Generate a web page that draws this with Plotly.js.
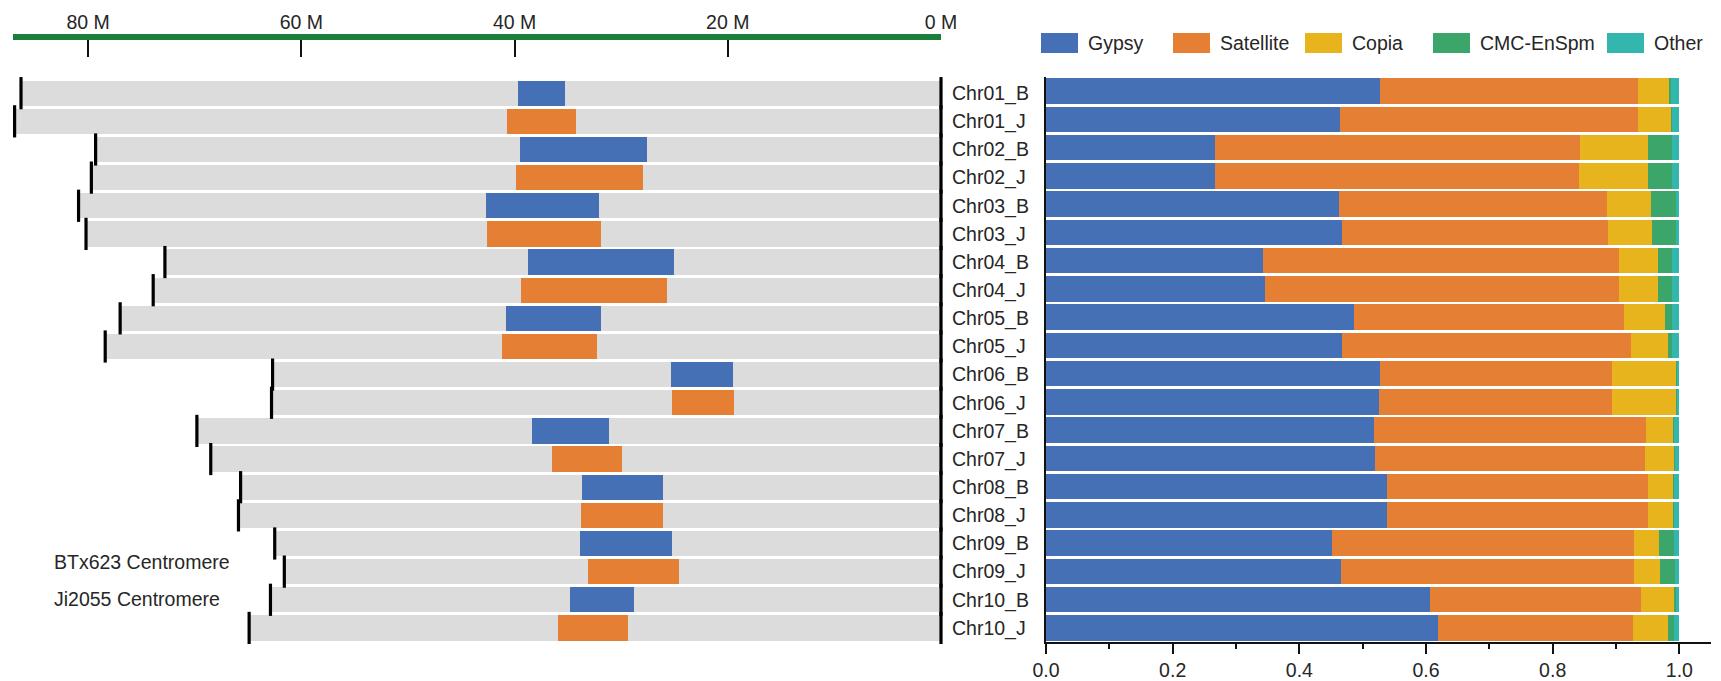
<!DOCTYPE html>
<html>
<head>
<meta charset="utf-8">
<script src="https://cdn.plot.ly/plotly-3.0.1.min.js"></script>
<style>html,body{margin:0;padding:0;background:#fff;}#chart{width:1721px;height:681px;}</style>
</head>
<body>
<div id="chart"></div>
<script>
// ---------- data ----------
const chromosomes = ['Chr01_B','Chr01_J','Chr02_B','Chr02_J','Chr03_B','Chr03_J','Chr04_B','Chr04_J','Chr05_B','Chr05_J',
                     'Chr06_B','Chr06_J','Chr07_B','Chr07_J','Chr08_B','Chr08_J','Chr09_B','Chr09_J','Chr10_B','Chr10_J'];
// chromosome length (Mb)
const chrLength = [86.3,86.9,79.3,79.7,80.9,80.2,72.8,73.9,77.0,78.4,62.7,62.8,69.8,68.5,65.7,65.9,62.5,61.6,62.9,64.9];
// centromere region (Mb)
const cenStart = [39.7,40.7,39.5,39.9,42.7,42.6,38.7,39.4,40.8,41.2,25.3,25.2,38.4,36.5,33.7,33.8,33.9,33.1,34.8,35.9];
const cenEnd   = [35.3,34.2,27.6,28.0,32.1,31.9,25.0,25.7,31.9,32.3,19.5,19.4,31.1,29.9,26.1,26.1,25.2,24.6,28.8,29.4];
// repeat composition in centromeres (fractions)
const gypsy     = [0.527,0.464,0.267,0.267,0.462,0.468,0.343,0.345,0.486,0.467,0.527,0.526,0.518,0.519,0.538,0.538,0.452,0.466,0.606,0.619];
const satellite = [0.408,0.470,0.576,0.575,0.424,0.420,0.562,0.560,0.426,0.456,0.367,0.368,0.430,0.426,0.413,0.413,0.477,0.463,0.333,0.308];
const copia     = [0.049,0.053,0.108,0.109,0.070,0.069,0.061,0.061,0.065,0.059,0.100,0.100,0.042,0.047,0.039,0.039,0.039,0.041,0.053,0.055];
const cmcEnSpm  = [0.003,0.001,0.037,0.037,0.039,0.038,0.022,0.022,0.011,0.007,0.002,0.002,0.001,0.001,0.001,0.001,0.024,0.023,0.002,0.010];
const other     = [0.013,0.012,0.012,0.012,0.005,0.005,0.012,0.012,0.012,0.011,0.004,0.004,0.009,0.007,0.009,0.009,0.008,0.007,0.006,0.008];
const seriesNames = ['Gypsy','Satellite','Copia','CMC-EnSpm','Other'];
const xTickVals = [80,60,40,20,0];
const xTickText = ['80 M','60 M','40 M','20 M','0 M'];

// ---------- style ----------
const FONT = '"Liberation Sans", Arial, sans-serif';
const FS = 19.5;
const TXT = '#262626';
const seriesColors = ['#4670b6','#e57f33','#e8b41e','#3ca56a','#33b6ad'];
const BLUE = '#4670b6', ORANGE = '#e57f33', GRAY = '#dcdcdc';

const rows = chromosomes.map((_, i) => i);
const isB = chromosomes.map(c => c.endsWith('_B'));

const traces = [];
// gray chromosome bars
traces.push({type:'bar', orientation:'h', y: rows, x: chrLength, base: 0, width: 0.9,
  marker:{color: GRAY, line:{width:0}}, xaxis:'x', yaxis:'y', hoverinfo:'skip', showlegend:false});
// centromere bars
const cenB = rows.filter(i => isB[i]), cenJ = rows.filter(i => !isB[i]);
traces.push({type:'bar', orientation:'h', name:'BTx623 Centromere', y: cenB,
  base: cenB.map(i => cenEnd[i]), x: cenB.map(i => cenStart[i] - cenEnd[i]), width: 0.9,
  marker:{color: BLUE, line:{width:0}}, xaxis:'x', yaxis:'y', showlegend:false});
traces.push({type:'bar', orientation:'h', name:'Ji2055 Centromere', y: cenJ,
  base: cenJ.map(i => cenEnd[i]), x: cenJ.map(i => cenStart[i] - cenEnd[i]), width: 0.9,
  marker:{color: ORANGE, line:{width:0}}, xaxis:'x', yaxis:'y', showlegend:false});
// black end marks
traces.push({type:'scatter', mode:'markers', x: chrLength.concat(chrLength.map(() => 0)), y: rows.concat(rows),
  marker:{symbol:'line-ns', size:23, color:'#000', line:{width:3.2, color:'#000'}},
  xaxis:'x', yaxis:'y', hoverinfo:'skip', showlegend:false, cliponaxis:false});

// stacked composition bars (right)
const comps = [gypsy, satellite, copia, cmcEnSpm, other];
let cum = rows.map(() => 0);
comps.forEach((vals, k) => {
  traces.push({type:'bar', orientation:'h', name: seriesNames[k], y: rows, x: vals, base: cum.slice(), width: 0.9,
    marker:{color: seriesColors[k], line:{width:0}}, xaxis:'x2', yaxis:'y2', showlegend:false});
  cum = cum.map((c, i) => c + vals[i]);
});

// ---------- layout helpers (pixel -> paper) ----------
const ML = 13, MR = 10, MT = 40, MB = 39, W = 1721, H = 681;
const PW = W - ML - MR, PH = H - MT - MB;
const px = x => (x - ML) / PW;
const py = y => (H - MB - y) / PH;

// legend (custom wide swatches)
const legendLeft = [1041, 1173, 1305, 1433, 1607];
const shapes = [], annotations = [];
seriesNames.forEach((n, k) => {
  shapes.push({type:'rect', xref:'paper', yref:'paper', x0: px(legendLeft[k]), x1: px(legendLeft[k] + 37),
    y0: py(53), y1: py(33), fillcolor: seriesColors[k], line:{width:0}});
  annotations.push({xref:'paper', yref:'paper', x: px(legendLeft[k] + 45), y: py(43), xanchor:'left', yanchor:'middle',
    text: n, showarrow:false, font:{family:FONT, size:FS, color:TXT}});
});
annotations.push({xref:'paper', yref:'paper', x: px(52), y: py(562), xanchor:'left', yanchor:'middle',
  text:'BTx623 Centromere', showarrow:false, font:{family:FONT, size:FS, color:TXT}});
annotations.push({xref:'paper', yref:'paper', x: px(52), y: py(599), xanchor:'left', yanchor:'middle',
  text:'Ji2055 Centromere', showarrow:false, font:{family:FONT, size:FS, color:TXT}});

const layout = {
  width: W, height: H,
  margin:{l:ML, r:MR, t:MT, b:MB, pad:0},
  paper_bgcolor:'#ffffff', plot_bgcolor:'rgba(0,0,0,0)',
  barmode:'overlay', bargap:0,
  font:{family:FONT, size:FS, color:TXT},
  showlegend:false,
  xaxis:{domain:[0, px(941)], range:[87.05, 0], side:'top', anchor:'y',
    tickmode:'array', tickvals:xTickVals, ticktext:xTickText,
    showline:true, linecolor:'#1b7f3b', linewidth:6, mirror:false,
    ticks:'inside', ticklen:17, tickwidth:2, tickcolor:'#111',
    showgrid:false, zeroline:false, tickfont:{family:FONT, size:FS, color:TXT}, ticklabelstandoff:-3},
  yaxis:{domain:[0,1], range:[19.5, -1.89], anchor:'x', side:'right',
    tickmode:'array', tickvals:rows, ticktext:chromosomes, ticks:'', ticklabelstandoff:10,
    showline:false, showgrid:false, zeroline:false, tickfont:{family:FONT, size:FS, color:TXT}},
  xaxis2:{domain:[px(1046), 1], range:[0, 1.05], anchor:'y2',
    tickmode:'linear', tick0:0, dtick:0.2, tickformat:'.1f',
    showline:true, linecolor:'#111', linewidth:2, ticks:'outside', ticklen:10, tickwidth:2, tickcolor:'#111',
    minor:{dtick:0.1, ticks:'outside', ticklen:5, tickwidth:2, tickcolor:'#111', showgrid:false},
    showgrid:false, zeroline:false, tickfont:{family:FONT, size:FS, color:TXT}},
  yaxis2:{domain:[0, py(77)], range:[19.5, -0.5], anchor:'x2',
    showticklabels:false, ticks:'', showline:true, linecolor:'#111', linewidth:2,
    showgrid:false, zeroline:false},
  shapes: shapes,
  annotations: annotations
};

Plotly.newPlot('chart', traces, layout, {displayModeBar:false, staticPlot:true});
</script>
</body>
</html>
